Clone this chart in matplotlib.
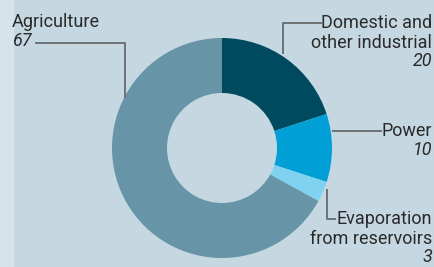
import matplotlib.pyplot as plt

# data
categories = ['Domestic and\nother industrial', 'Power', 'Evaporation\nfrom reservoirs', 'Agriculture']
values = [20, 10, 3, 67]
colors = ['#004a60', '#009fd6', '#7fd3f0', '#6794a7']

W, H = 435, 267
bg = '#c5d7e1'

plt.rcParams['font.family'] = ['Roboto', 'DejaVu Sans']

fig = plt.figure(figsize=(W / 100, H / 100), dpi=100, facecolor=bg)
ax = fig.add_axes([0, 0, 1, 1])

# lighter strip on the left
ax.add_patch(plt.Rectangle((0, 0), 13, H, color='#d6e3ea', zorder=0))


def Y(y):
    # pixel row (from top) to data y
    return H - y


# donut
ax.pie(values, colors=colors, startangle=90, counterclock=False,
       center=(222, Y(148)), radius=110, frame=True,
       wedgeprops=dict(width=55, linewidth=0))
ax.set_xlim(0, W)
ax.set_ylim(0, H)
ax.set_aspect('equal')
ax.axis('off')

lc = '#6d7275'
tc = '#2a2a2a'
fs = 13

# agriculture
ax.plot([36, 125, 125], [Y(43), Y(43), Y(97)], color=lc, lw=1.4)
ax.text(12, Y(22), categories[3], ha='left', va='center', fontsize=fs, color=tc)
ax.text(12, Y(41), str(values[3]), ha='left', va='center', fontsize=fs, color=tc, style='italic')

# domestic
ax.plot([321, 283, 283], [Y(23), Y(23), Y(53)], color=lc, lw=1.4)
ax.text(432, Y(33), categories[0], ha='right', va='center', fontsize=fs, color=tc,
        linespacing=1.2)
ax.text(432, Y(61), str(values[0]), ha='right', va='center', fontsize=fs, color=tc, style='italic')

# power
ax.plot([333, 381], [Y(131), Y(131)], color=lc, lw=1.4)
ax.text(432, Y(131), categories[1], ha='right', va='center', fontsize=fs, color=tc)
ax.text(432, Y(150), str(values[1]), ha='right', va='center', fontsize=fs, color=tc, style='italic')

# evaporation
ax.plot([327, 327, 335], [Y(190), Y(219), Y(219)], color=lc, lw=1.4)
ax.text(432, Y(229), categories[2], ha='right', va='center', fontsize=fs, color=tc,
        linespacing=1.2)
ax.text(432, Y(257), str(values[2]), ha='right', va='center', fontsize=fs, color=tc, style='italic')

fig.savefig('out.png', dpi=100, facecolor=bg)
